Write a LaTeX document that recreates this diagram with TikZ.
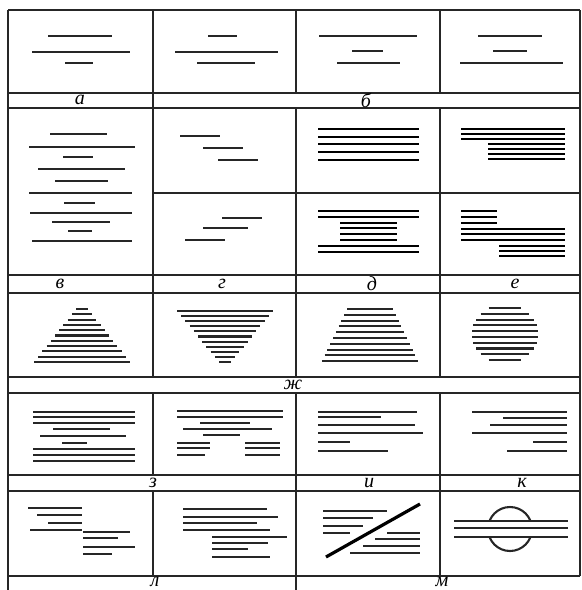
\documentclass[tikz,border=0pt]{standalone}
\usepackage{fontspec}
\newfontfamily\cyrfont{Liberation Serif}
\usepackage{tikz}
\usetikzlibrary{positioning}
\tikzset{
  frameline/.style={line width=0.8pt,black!85},
  txt/.style={line width=1.05pt,black!85},
  boldtxt/.style={line width=1.3pt,black},
  lbl/.style={font=\cyrfont\itshape\fontsize{10}{12}\selectfont,inner sep=0pt}
}
% one typeset line: [style]{left}{right}{height}
\newcommand{\typeline}[4][txt]{
  \draw[#1] (#2,#4) -- (#3,#4);
}

\begin{document}
\begin{tikzpicture}[x=0.5pt,y=-0.5pt]
  \useasboundingbox (0,0) rectangle (582,590);

  % ruling
  \foreach \y in {10,93,108,275,293,377,393,475,491,576}
    \draw[frameline] (8,\y) -- (580,\y);
  \draw[frameline] (153,193) -- (580,193);
  \draw[frameline] (8,10) -- (8,590);
  \draw[frameline] (580,10) -- (580,576);
  \draw[frameline] (153,10) -- (153,377) (153,393) -- (153,475) (153,491) -- (153,576);
  \draw[frameline] (296,10) -- (296,93) (296,108) -- (296,377) (296,393) -- (296,590);
  \draw[frameline] (440,10) -- (440,93) (440,108) -- (440,377) (440,393) -- (440,576);

  % row a, b
  \typeline{48}{112}{36}
  \typeline{32}{130}{52}
  \typeline{65}{93}{63}
  \typeline{208}{237}{36}
  \typeline{175}{278}{52}
  \typeline{197}{255}{63}
  \typeline{319}{417}{36}
  \typeline{352}{383}{51}
  \typeline{337}{400}{63}
  \typeline{478}{542}{36}
  \typeline{493}{527}{51}
  \typeline{460}{563}{63}

  % v
  \typeline{50}{107}{134}
  \typeline{29}{135}{147}
  \typeline{63}{93}{157}
  \typeline{38}{125}{169}
  \typeline{55}{108}{181}
  \typeline{29}{132}{193}
  \typeline{64}{95}{203}
  \typeline{30}{132}{213}
  \typeline{52}{110}{222}
  \typeline{68}{92}{231}
  \typeline{32}{132}{241}

  % g
  \typeline{180}{220}{136}
  \typeline{203}{243}{148}
  \typeline{218}{258}{160}
  \typeline{222}{262}{218}
  \typeline{203}{248}{228}
  \typeline{185}{225}{240}

  % d
  \foreach \y in {129,137,144,152,160}{\typeline[boldtxt]{318}{419}{\y}}
  \foreach \y in {211,217,246,252}{\typeline[boldtxt]{318}{419}{\y}}
  \foreach \y in {223,228,234,240}{\typeline[boldtxt]{340}{397}{\y}}

  % e
  \foreach \y in {129,134,139}{\typeline[boldtxt]{461}{565}{\y}}
  \foreach \y in {144,149,154,159}{\typeline[boldtxt]{488}{565}{\y}}
  \foreach \y in {211,217,223}{\typeline[boldtxt]{461}{497}{\y}}
  \foreach \y in {229,234,240}{\typeline[boldtxt]{461}{565}{\y}}
  \foreach \y in {246,251,256}{\typeline[boldtxt]{499}{565}{\y}}

  % zh: four outlines
  \foreach \i in {0,...,10}{
    \pgfmathsetmacro{\yy}{309+5.3*\i}
    \pgfmathsetmacro{\hw}{6+4.2*\i}
    \typeline{82-\hw}{82+\hw}{\yy}
  }
  \foreach \i in {0,...,10}{
    \pgfmathsetmacro{\yy}{311+5.1*\i}
    \pgfmathsetmacro{\hw}{48-4.2*\i}
    \typeline{225-\hw}{225+\hw}{\yy}
  }
  \foreach \i in {0,...,9}{
    \pgfmathsetmacro{\yy}{309+5.8*\i}
    \pgfmathsetmacro{\hw}{23+2.8*\i}
    \typeline{370-\hw}{370+\hw}{\yy}
  }
  \foreach \i in {0,...,9}{
    \pgfmathsetmacro{\yy}{308+5.78*\i}
    \pgfmathsetmacro{\hw}{33*sqrt(1-((\yy-334)/30)^2)}
    \typeline{505-\hw}{505+\hw}{\yy}
  }

  % z
  \foreach \y in {412,417,423,449,455,461}{\typeline{33}{135}{\y}}
  \typeline{53}{110}{429}
  \typeline{40}{126}{436}
  \typeline{62}{87}{443}
  \typeline{177}{283}{411}
  \typeline{177}{283}{417}
  \typeline{200}{250}{423}
  \typeline{183}{272}{429}
  \typeline{203}{240}{435}
  \typeline{177}{210}{443}
  \typeline{177}{210}{448}
  \typeline{177}{205}{455}
  \typeline{245}{280}{443}
  \typeline{245}{280}{448}
  \typeline{245}{280}{455}

  % i
  \typeline{318}{417}{412}
  \typeline{318}{381}{417}
  \typeline{318}{415}{425}
  \typeline{318}{423}{433}
  \typeline{318}{350}{442}
  \typeline{318}{388}{451}

  % k
  \typeline{472}{567}{412}
  \typeline{503}{567}{418}
  \typeline{490}{567}{425}
  \typeline{472}{567}{433}
  \typeline{533}{567}{442}
  \typeline{507}{567}{451}

  % l
  \typeline{28}{82}{508}
  \typeline{37}{82}{515}
  \typeline{48}{82}{523}
  \typeline{30}{82}{530}
  \typeline{83}{130}{532}
  \typeline{83}{118}{538}
  \typeline{83}{135}{547}
  \typeline{83}{112}{554}
  \typeline{183}{267}{509}
  \typeline{183}{278}{517}
  \typeline{183}{257}{523}
  \typeline{183}{270}{530}
  \typeline{212}{287}{537}
  \typeline{212}{268}{543}
  \typeline{212}{248}{549}
  \typeline{212}{270}{557}

  % m
  \typeline{323}{387}{511}
  \typeline{323}{373}{518}
  \typeline{323}{363}{526}
  \typeline{323}{350}{533}
  \typeline{387}{420}{533}
  \typeline{375}{420}{539}
  \typeline{363}{420}{546}
  \typeline{350}{420}{553}
  \draw[line width=1.6pt] (326,557) -- (420,504);
  \foreach \y in {521,528,537}{\typeline{454}{568}{\y}}
  \begin{scope}
    \clip (480,500) rectangle (540,521);
    \draw[txt] (510,529) circle[radius=11pt];
  \end{scope}
  \begin{scope}
    \clip (480,537) rectangle (540,560);
    \draw[txt] (510,529) circle[radius=11pt];
  \end{scope}

  % letters
  \node[lbl] (la) at (80,100) {а};
  \node[lbl] (lb) at (366,100) {б};
  \node[lbl] (lv) at (60,284) {в};
  \node[lbl] (lg) at (222,284) {г};
  \node[lbl] (ld) at (372,284) {д};
  \node[lbl] (le) at (515,284) {е};
  \node[lbl] (lzh) at (293,385) {ж};
  \node[lbl] (lz) at (153,483) {з};
  \node[lbl] (li) at (369,483) {и};
  \node[lbl] (lk) at (522,483) {к};
  \node[lbl] (ll) at (155,582) {л};
  \node[lbl] (lm) at (442,582) {м};
\end{tikzpicture}
\end{document}
